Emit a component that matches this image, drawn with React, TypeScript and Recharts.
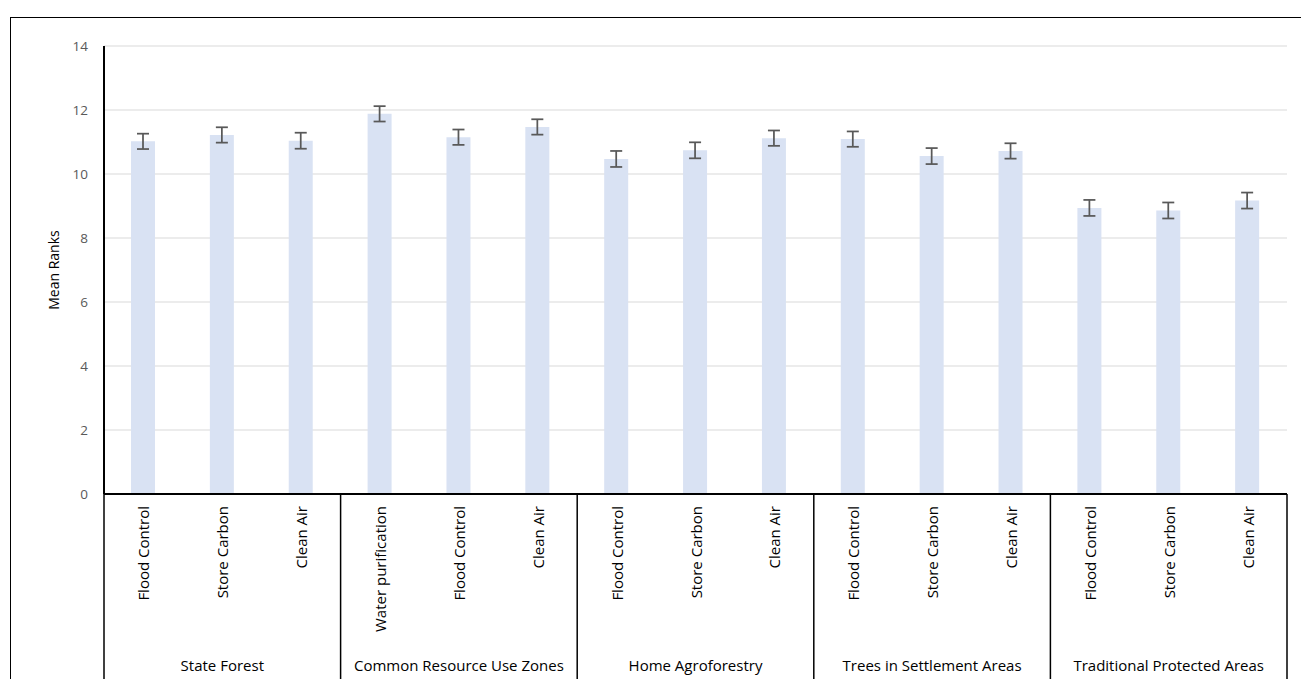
import React from 'react';
import { BarChart, Bar, XAxis, YAxis, CartesianGrid, ErrorBar } from 'recharts';

// ecosystem services (inner category level)
const services = [
  'Flood Control',
  'Store Carbon',
  'Clean Air',
  'Water purification',
  'Flood Control',
  'Clean Air',
  'Flood Control',
  'Store Carbon',
  'Clean Air',
  'Flood Control',
  'Store Carbon',
  'Clean Air',
  'Flood Control',
  'Store Carbon',
  'Clean Air',
];

// land use types (outer category level)
const landUses = [
  'State Forest',
  'State Forest',
  'State Forest',
  'Common Resource Use Zones',
  'Common Resource Use Zones',
  'Common Resource Use Zones',
  'Home Agroforestry',
  'Home Agroforestry',
  'Home Agroforestry',
  'Trees in Settlement Areas',
  'Trees in Settlement Areas',
  'Trees in Settlement Areas',
  'Traditional Protected Areas',
  'Traditional Protected Areas',
  'Traditional Protected Areas',
];

const meanRanks = [
  11.02, 11.22, 11.04, 11.88, 11.15, 11.47, 10.47, 10.74, 11.12, 11.09, 10.56,
  10.72, 8.94, 8.86, 9.17,
];

const errors = [
  0.24, 0.24, 0.25, 0.24, 0.24, 0.24, 0.25, 0.25, 0.24, 0.24, 0.25, 0.24, 0.25,
  0.25, 0.25,
];

const yTicks = [0, 2, 4, 6, 8, 10, 12, 14];

const data = services.map((service, i) => ({
  service,
  landUse: landUses[i],
  mean: meanRanks[i],
  err: errors[i],
}));

const FONT = '"Open Sans", "Noto Sans", sans-serif';
const CHART_W = 1301;
const CHART_H = 700;
const MARGIN = { top: 46, right: 14, bottom: 6, left: 10 };
const Y_AXIS_W = 94;
const GROUP_SIZE = 3;
const STEP =
  (CHART_W - MARGIN.left - MARGIN.right - Y_AXIS_W) / services.length;

function CategoryTick(props: any) {
  const { x, y, payload, index } = props;
  const last = services.length - 1;
  return (
    <g>
      <text
        x={x}
        y={y + 12}
        transform={`rotate(-90, ${x}, ${y + 12})`}
        textAnchor="end"
        dominantBaseline="central"
        fontSize={15}
        fill="#000"
        fontFamily={FONT}
      >
        {payload.value}
      </text>
      {index % GROUP_SIZE === 0 && (
        <line
          x1={x - STEP / 2}
          x2={x - STEP / 2}
          y1={y}
          y2={y + 260}
          stroke="#000"
          strokeWidth={1.5}
        />
      )}
      {index === last && (
        <line
          x1={x + STEP / 2}
          x2={x + STEP / 2}
          y1={y}
          y2={y + 260}
          stroke="#000"
          strokeWidth={1.5}
        />
      )}
      {index % GROUP_SIZE === 1 && (
        <text
          x={x}
          y={y + 171}
          textAnchor="middle"
          dominantBaseline="central"
          fontSize={15}
          fill="#000"
          fontFamily={FONT}
        >
          {landUses[index]}
        </text>
      )}
    </g>
  );
}

export default function App() {
  return (
    <div
      style={{
        position: 'fixed',
        left: 0,
        top: 0,
        width: 1301,
        height: 679,
        overflow: 'hidden',
        background: '#fff',
      }}
    >
      <div
        style={{
          position: 'absolute',
          left: 10,
          top: 17,
          width: 1400,
          height: 800,
          border: '1.5px solid #000',
          boxSizing: 'border-box',
        }}
      />
      <div style={{ position: 'absolute', left: 0, top: 0 }}>
        <BarChart width={CHART_W} height={CHART_H} data={data} margin={MARGIN}>
          <CartesianGrid vertical={false} stroke="#d9d9d9" />
          <XAxis
            dataKey="service"
            interval={0}
            tickLine={false}
            tickSize={0}
            tickMargin={0}
            height={200}
            axisLine={{ stroke: '#000', strokeWidth: 2 }}
            tick={<CategoryTick />}
          />
          <YAxis
            domain={[0, 14]}
            ticks={yTicks}
            width={Y_AXIS_W}
            tickLine={false}
            tickSize={0}
            tickMargin={16}
            axisLine={{ stroke: '#000', strokeWidth: 2 }}
            tick={{ fontSize: 13.5, fill: '#595959', fontFamily: FONT }}
            label={{
              value: 'Mean Ranks',
              angle: -90,
              position: 'insideLeft',
              offset: 44,
              style: {
                textAnchor: 'middle',
                fontSize: 14,
                fill: '#000',
                fontFamily: FONT,
              },
            }}
          />
          <Bar
            dataKey="mean"
            fill="#D9E2F3"
            barSize={24}
            isAnimationActive={false}
          >
            <ErrorBar
              dataKey="err"
              width={6}
              strokeWidth={1.75}
              stroke="#595959"
              direction="y"
            />
          </Bar>
        </BarChart>
      </div>
    </div>
  );
}
